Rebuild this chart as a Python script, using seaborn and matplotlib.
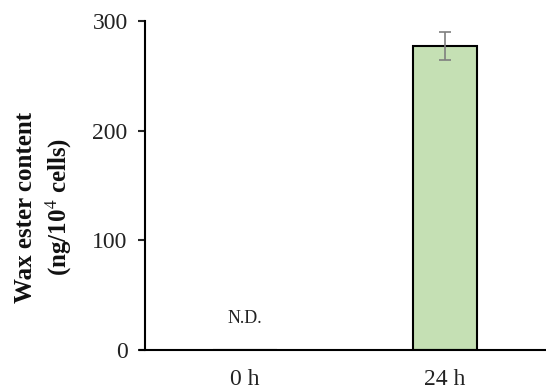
import matplotlib
matplotlib.use("Agg")
import matplotlib.pyplot as plt
import seaborn as sns
import pandas as pd

categories = ["0 h", "24 h"]
values = [0, 277]
errors = [0, 13]
labels_nd = ["N.D.", ""]
yticks = [0, 100, 200, 300]

sns.set_theme(style="white")
plt.rcParams["font.family"] = ["Liberation Serif", "DejaVu Serif"]
plt.rcParams["mathtext.fontset"] = "stix"

fig = plt.figure(figsize=(5.46, 3.92), dpi=100)
ax = fig.add_axes([145/546, 1-350/392, 400/546, 329/392])

df = pd.DataFrame({"cat": categories, "val": values})
sns.barplot(data=df, x="cat", y="val", ax=ax, color="#C5E0B4", width=0.32,
            edgecolor="black", linewidth=1.5, saturation=1, errorbar=None)
ax.errorbar(x=[1], y=[values[1]], yerr=[errors[1]], fmt="none",
            ecolor="#7f7f7f", elinewidth=1.2, capsize=4, capthick=1.2)
ax.text(0, 29, labels_nd[0], ha="center", va="center", fontsize=13, color="#222222")

ax.set_xlim(-0.5, 1.5)
ax.set_ylim(0, 300)
ax.set_yticks(yticks)
ax.set_xlabel("")
ax.set_ylabel("")
ax.tick_params(axis="y", direction="out", length=5, width=1.5, left=True,
               labelsize=17, pad=7.5, labelcolor="#222222")
ax.tick_params(axis="x", length=0, labelsize=17, pad=14, labelcolor="#222222")
for s in ["top", "right"]:
    ax.spines[s].set_visible(False)
for s in ["left", "bottom"]:
    ax.spines[s].set_linewidth(1.5)
    ax.spines[s].set_color("black")
ax.spines["bottom"].set_bounds(-0.525, 1.5)

fig.text(44/546, 1-207/392, "Wax ester content\n(ng/10$^{4}$ cells)", rotation=90,
         ha="center", va="center", fontsize=18, fontweight="bold", linespacing=1.3,
         color="#111111")

fig.savefig("out.png", dpi=100)
